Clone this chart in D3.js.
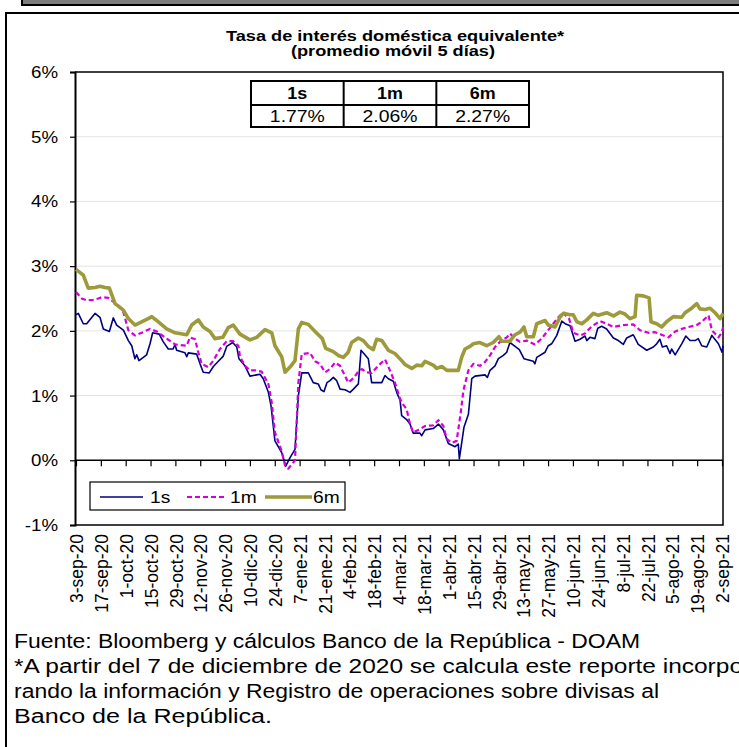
<!DOCTYPE html>
<html><head><meta charset="utf-8">
<script src="https://cdn.jsdelivr.net/npm/d3@7"></script>
<style>
html,body{margin:0;padding:0;background:#fff;}
svg text{font-family:"Liberation Sans",Arial,sans-serif;}
</style></head>
<body><svg id="c" width="739" height="747"></svg>
<script>
// ---- data (value in %, day offset from 3-sep-2020) ----
const startDate = Date.UTC(2020, 8, 3);
const tickLabels = ["3-sep-20","17-sep-20","1-oct-20","15-oct-20","29-oct-20","12-nov-20","26-nov-20","10-dic-20","24-dic-20","7-ene-21","21-ene-21","4-feb-21","18-feb-21","4-mar-21","18-mar-21","1-abr-21","15-abr-21","29-abr-21","13-may-21","27-may-21","10-jun-21","24-jun-21","8-jul-21","22-jul-21","5-ago-21","19-ago-21","2-sep-21"];
const yTicks = [-1,0,1,2,3,4,5,6];
const seriesNames = ["1s","1m","6m"];
const lastValues = ["1.77%","2.06%","2.27%"];

const s1s = [[0,2.25],[1.3,2.27],[4.1,2.11],[6,2.11],[10.7,2.27],[13.5,2.21],[15.4,2.03],[18.8,1.99],[21,2.20],[22.9,2.09],[26.7,2.01],[29.5,1.85],[31.4,1.77],[33.2,1.57],[34.2,1.63],[35.5,1.54],[39.8,1.63],[41.7,1.80],[43.2,1.97],[46.9,1.95],[49.2,1.83],[52,1.72],[54.7,1.72],[55.8,1.79],[56.7,1.70],[61.4,1.66],[62.4,1.60],[63.3,1.66],[68,1.64],[69.9,1.49],[71.7,1.36],[75.1,1.35],[77.4,1.45],[80.2,1.53],[83,1.61],[84.9,1.76],[88.3,1.82],[90.6,1.75],[91.8,1.57],[95.2,1.46],[98,1.30],[101.8,1.32],[103.7,1.33],[105.5,1.26],[108.4,1.05],[109.9,0.84],[112.1,0.30],[115.9,0.12],[118.2,-0.09],[120.6,0.04],[123.4,0.17],[125.3,1.00],[127.2,1.35],[130.9,1.35],[133.7,1.20],[136.5,1.18],[138,1.09],[139.7,1.06],[141.4,1.20],[143.1,1.23],[145,1.28],[146.9,1.23],[148.8,1.10],[151.6,1.09],[154.4,1.05],[156.3,1.10],[159.1,1.18],[160.6,1.70],[162.8,1.63],[164.7,1.57],[166.6,1.20],[172.3,1.20],[174.1,1.31],[176,1.26],[178.8,1.22],[180.7,1.05],[182.6,0.93],[183.5,0.69],[186.3,0.63],[188.2,0.56],[190,0.42],[193.8,0.42],[194.8,0.38],[196.7,0.47],[201.3,0.49],[204.2,0.56],[207,0.47],[209.8,0.26],[213.6,0.21],[215.4,0.25],[216,0.02],[218.6,0.51],[221.1,0.71],[223,1.26],[224.8,1.30],[230.5,1.32],[231.8,1.28],[233.3,1.39],[236.1,1.46],[238,1.57],[240.8,1.62],[242.7,1.67],[244.5,1.82],[247.4,1.76],[249.8,1.71],[252.4,1.57],[257.7,1.53],[258.6,1.49],[259.6,1.59],[264.3,1.67],[266.1,1.77],[268,1.80],[270.9,1.93],[273.7,2.15],[275.6,2.11],[278.4,2.08],[281.2,1.84],[284,1.87],[286.8,1.92],[287.8,1.85],[289.6,1.90],[292.4,1.88],[294,2.04],[296.2,2.07],[299,2.03],[302.8,1.89],[305.6,1.85],[308.4,1.79],[310.3,1.89],[314,1.94],[316.8,1.79],[321.6,1.70],[325.3,1.75],[327.2,1.80],[329,1.87],[330.4,1.75],[332.8,1.77],[334.7,1.65],[335.6,1.72],[337.6,1.63],[341.3,1.80],[343.6,1.92],[346,1.85],[348.8,1.85],[350.6,1.88],[352.6,1.77],[355.4,1.75],[358.3,1.93],[362,1.80],[364,1.67],[364.6,1.77]];

const s1m = [[0,2.60],[3.2,2.50],[6,2.47],[9.7,2.48],[12.6,2.50],[14.5,2.52],[18.2,2.51],[21,2.45],[24.8,2.37],[26.7,2.29],[29.5,2.01],[33.2,1.93],[37,1.97],[41.7,2.03],[45.5,1.99],[51.1,1.88],[55.8,1.79],[62.4,1.77],[64.2,1.90],[67.1,1.87],[68.9,1.67],[70.8,1.49],[74.5,1.44],[77.4,1.54],[81.1,1.72],[84.9,1.84],[88.6,1.84],[91.5,1.77],[92.4,1.60],[95.2,1.46],[98,1.39],[100.9,1.39],[104.6,1.37],[108.4,1.18],[110.3,0.89],[112.1,0.43],[115.9,0.14],[117.8,-0.08],[119.6,-0.13],[123.4,0.00],[125.3,1.20],[127.2,1.64],[131.9,1.66],[134.7,1.53],[137.5,1.49],[140.3,1.36],[143.1,1.41],[145.9,1.51],[148.8,1.46],[153.4,1.20],[156.3,1.27],[159.1,1.37],[161,1.41],[163.8,1.36],[166.6,1.35],[170.3,1.46],[174.1,1.56],[176.9,1.39],[179.7,1.20],[182.6,0.95],[184.4,0.86],[186.3,0.79],[188.2,0.56],[190,0.43],[193.8,0.48],[196.7,0.53],[201.3,0.54],[204.2,0.62],[207,0.53],[208.9,0.33],[211.7,0.27],[214.5,0.30],[216.8,0.74],[218.3,1.08],[221.1,1.39],[223.9,1.49],[227.6,1.46],[230.5,1.52],[233.3,1.62],[236.1,1.75],[238.9,1.83],[242.7,1.90],[244.5,1.96],[247.4,1.88],[250.2,1.83],[254,1.85],[258.6,1.79],[262.4,1.88],[265.2,1.98],[268.9,2.11],[271.8,2.21],[274.6,2.29],[275.5,2.25],[277.8,2.19],[280.2,1.97],[284,1.93],[286.8,1.96],[290.6,2.07],[295.3,2.15],[299,2.11],[302.8,2.06],[308.4,2.09],[314,2.10],[317.8,2.01],[322.5,1.97],[326.3,1.98],[330,1.94],[333.8,1.90],[337.6,1.99],[341.3,2.03],[345.1,2.06],[349.8,2.09],[352.6,2.14],[356.4,2.24],[358.3,2.01],[362,1.90],[364,1.98],[364.6,2.06]];

const s6m = [[0,2.95],[4.1,2.86],[6.9,2.66],[10.7,2.67],[13.5,2.69],[16.3,2.67],[18.8,2.66],[22,2.42],[26.7,2.32],[29.5,2.19],[33.2,2.09],[37,2.14],[40.7,2.19],[42.7,2.22],[46.4,2.14],[51.1,2.03],[55.8,1.97],[62.4,1.94],[65.2,2.09],[68.9,2.17],[71.7,2.06],[75.5,1.99],[78.3,1.88],[82.7,1.90],[85.8,2.05],[88.6,2.09],[92.4,1.95],[98,1.86],[101.8,1.90],[106.5,2.02],[110.3,1.97],[112.1,1.77],[115.9,1.60],[117.8,1.36],[120.6,1.44],[123.4,1.54],[125.3,2.03],[127.2,2.13],[130.9,2.10],[134.7,1.99],[138.8,1.88],[140.7,1.73],[145,1.68],[147.8,1.62],[150.6,1.59],[153.4,1.67],[155.3,1.82],[159.1,1.89],[161.9,1.85],[164.7,1.76],[167.5,1.71],[169.4,1.87],[172.3,1.85],[176,1.70],[179.7,1.65],[183.5,1.54],[185.4,1.48],[189.2,1.42],[192,1.47],[194.8,1.46],[196.7,1.53],[201.3,1.47],[203.2,1.42],[206.1,1.45],[208.9,1.39],[215.4,1.39],[217.3,1.59],[219.2,1.72],[222,1.76],[223.9,1.80],[227.6,1.82],[231.4,1.77],[235.1,1.82],[238.3,1.91],[239.9,1.84],[244.5,1.84],[247.4,1.94],[250.2,1.98],[252.4,2.06],[254,1.91],[257.7,1.91],[259.6,2.11],[264.3,2.16],[266.1,2.09],[269.9,2.06],[272.7,2.21],[274.6,2.27],[278.4,2.25],[280.2,2.25],[282.2,2.14],[285,2.11],[287.8,2.17],[291.5,2.27],[294.3,2.24],[299,2.28],[302.8,2.23],[306.5,2.29],[309.3,2.26],[312.2,2.19],[315,2.22],[315.9,2.55],[319.7,2.54],[322.9,2.51],[324,2.14],[327.2,2.11],[330,2.06],[332.8,2.14],[336.6,2.22],[341.3,2.21],[343.2,2.28],[346.9,2.35],[349.8,2.42],[351.6,2.34],[354.4,2.33],[357.2,2.35],[360.1,2.28],[362.9,2.19],[364.6,2.27]];

const seriesColors = ["#000080","#D600D6","#9C9A3A"];

const footLines = ["Fuente: Bloomberg y cálculos Banco de la República - DOAM",
  "*A partir del 7 de diciembre de 2020 se calcula este reporte incorpo",
  "rando la información y Registro de operaciones sobre divisas al",
  "Banco de la República."];

// ---- drawing ----
const svg = d3.select("#c");
const day = d => new Date(startDate + d * 864e5);
const X0 = 76, X1 = 722, plotL = 75, plotR = 723, plotT = 72, plotB = 525;
const x = d3.scaleUtc().domain([day(0), day(364)]).range([X0, X1]);
const y = d3.scaleLinear().domain([-1, 6]).range([plotB, plotT]);

// horizontal stretch helper around anchor x
function stretch(sel, ax, sx) {
  sel.attr("transform", `translate(${ax},0) scale(${sx},1) translate(${-ax},0)`);
}

svg.append("rect").attr("width",739).attr("height",747).attr("fill","#fff");
// frames
svg.append("rect").attr("x",22).attr("y",-4).attr("width",740).attr("height",9).attr("fill","#7d7d7d").attr("stroke","#000").attr("stroke-width",2);
svg.append("path").attr("d","M6,750V13H745").attr("fill","none").attr("stroke","#000").attr("stroke-width",2);

// title
const tl1 = svg.append("text").attr("x",395).attr("y",41).attr("text-anchor","middle").attr("font-weight","bold").attr("font-size",14).text("Tasa de interés doméstica equivalente*");
stretch(tl1, 395, 1.3);
const tl2 = svg.append("text").attr("x",393).attr("y",56).attr("text-anchor","middle").attr("font-weight","bold").attr("font-size",14).text("(promedio móvil 5 días)");
stretch(tl2, 393, 1.3);

// gridlines
svg.append("g").selectAll("line").data(yTicks.filter(v => v > 0 && v < 6)).join("line")
  .attr("x1",plotL).attr("x2",plotR).attr("y1",d=>y(d)).attr("y2",d=>y(d))
  .attr("stroke","#e4e4e4").attr("stroke-width",1);

// plot border
svg.append("path").attr("d",`M${plotL},${plotT}H${plotR}V${plotB}H${plotL}`).attr("fill","none").attr("stroke","#000").attr("stroke-width",1.5);

// y axis
const yAxis = d3.axisLeft(y).tickValues(yTicks).tickFormat(d => d + "%").tickSize(5).tickPadding(12);
const gy = svg.append("g").attr("transform",`translate(${plotL},0)`).call(yAxis);
gy.select(".domain").attr("stroke","#000").attr("stroke-width",2);
gy.selectAll(".tick line").attr("stroke","#000").attr("stroke-width",1.2);
gy.selectAll("text").attr("font-size",17).attr("fill","#000").style("font-family","'Liberation Sans',Arial,sans-serif")
  .attr("transform","translate(-17,0) scale(1.1,1) translate(17,0)");

// x axis at 0%
const tickDates = tickLabels.map((t,i) => day(i*14));
const xAxis = d3.axisBottom(x).tickValues(tickDates).tickFormat("").tickSize(6).tickSizeOuter(0);
const gx = svg.append("g").attr("transform",`translate(0,${y(0)})`).call(xAxis);
gx.select(".domain").attr("stroke","#000").attr("stroke-width",1.5).attr("d",`M${plotL},0H${plotR}`);
gx.selectAll(".tick line").attr("stroke","#000").attr("stroke-width",1.2);

// x labels (bottom)
svg.append("g").selectAll("text").data(tickLabels).join("text")
  .attr("transform",(d,i)=>`translate(${x(tickDates[i])+1},${plotB+9}) rotate(-90)`)
  .attr("text-anchor","end").attr("dy","0.35em").attr("font-size",17.5).attr("fill","#000").text(d=>d);

// lines
const line = d3.line().x(d => x(day(d[0]))).y(d => y(d[1]));
const all = [s1s, s1m, s6m];
const widths = [1.6, 2.2, 3.6];
all.forEach((s,i) => {
  svg.append("path").datum(s).attr("d",line).attr("fill","none")
    .attr("stroke",seriesColors[i]).attr("stroke-width",widths[i])
    .attr("stroke-linejoin","round")
    .attr("stroke-dasharray", i===1 ? "5,3" : null);
});

// table
const tX = d3.scaleBand().domain(seriesNames).range([251, 529]);
const tg = svg.append("g");
tg.append("rect").attr("x",251).attr("y",81).attr("width",278).attr("height",46).attr("fill","#fff").attr("stroke","#000").attr("stroke-width",2);
tg.append("line").attr("x1",251).attr("x2",529).attr("y1",105).attr("y2",105).attr("stroke","#000").attr("stroke-width",2);
seriesNames.slice(1).forEach(n => tg.append("line").attr("x1",tX(n)).attr("x2",tX(n)).attr("y1",81).attr("y2",127).attr("stroke","#000").attr("stroke-width",2));
seriesNames.forEach((n,i) => {
  const cx = tX(n)+tX.bandwidth()/2;
  const h = tg.append("text").attr("x",cx).attr("y",99.5).attr("text-anchor","middle").attr("font-weight","bold").attr("font-size",16).text(n);
  stretch(h, cx, 1.12);
  const v = tg.append("text").attr("x",cx).attr("y",122.5).attr("text-anchor","middle").attr("font-size",17).text(lastValues[i]);
  stretch(v, cx, 1.14);
});

// legend
const lg = svg.append("g");
lg.append("rect").attr("x",90).attr("y",482).attr("width",255).attr("height",28).attr("fill","#fff").attr("stroke","#000").attr("stroke-width",1.2);
const legX = [[100,143,150],[187,227,230],[265,312,313]];
seriesNames.forEach((n,i) => {
  lg.append("line").attr("x1",legX[i][0]).attr("x2",legX[i][1]).attr("y1",497).attr("y2",497)
    .attr("stroke",seriesColors[i]).attr("stroke-width",widths[i]).attr("stroke-dasharray", i===1 ? "5,3" : null);
  const t = lg.append("text").attr("x",legX[i][2]).attr("y",503).attr("font-size",16).text(n);
  stretch(t, legX[i][2], 1.2);
});

// footer
const footWidths = [626, 729, 645, 258];
svg.append("g").selectAll("text").data(footLines).join("text")
  .attr("x",14).attr("y",(d,i)=>648+i*25).attr("font-size",20).attr("fill","#000")
  .attr("textLength",(d,i)=>footWidths[i]).attr("lengthAdjust","spacingAndGlyphs")
  .text(d=>d);
</script></body></html>
